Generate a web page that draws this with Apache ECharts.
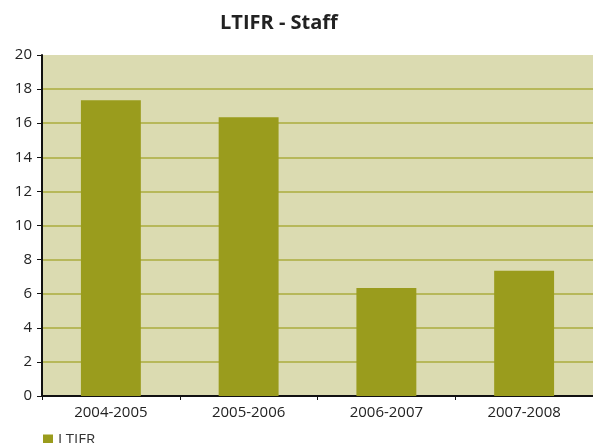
<!DOCTYPE html>
<html>
<head>
<meta charset="utf-8">
<script src="https://cdn.jsdelivr.net/npm/echarts@6/dist/echarts.min.js"></script>
<style>
  html, body { margin: 0; padding: 0; background: #ffffff; }
  #chart { width: 593px; height: 443px; }
</style>
</head>
<body>
<div id="chart"></div>
<script>
// данные
const categories = ['2004-2005', '2005-2006', '2006-2007', '2007-2008'];
const ltifrValues = [17.35, 16.35, 6.34, 7.34];
const yTicks = [0, 2, 4, 6, 8, 10, 12, 14, 16, 18, 20];

const FONT = '"Open Sans", "Noto Sans", sans-serif';
const chart = echarts.init(document.getElementById('chart'));

chart.setOption({
    animation: false,
    title: {
        text: 'LTIFR - Staff',
        left: 215,
        top: 8,
        textStyle: { fontFamily: FONT, fontSize: 20, fontWeight: 'bold', color: '#222222' }
    },
    legend: {
        data: ['LTIFR'],
        left: 38,
        top: 427,
        itemWidth: 10,
        itemHeight: 10,
        itemGap: 5,
        icon: 'rect',
        textStyle: { fontFamily: FONT, fontSize: 15, color: '#333333' }
    },
    grid: {
        left: 42,
        right: 0,
        top: 55,
        bottom: 47,
        show: true,
        backgroundColor: '#dbdbb1',
        borderWidth: 0
    },
    xAxis: {
        type: 'category',
        data: categories,
        axisLine: { lineStyle: { color: '#111111', width: 2 } },
        axisTick: { show: true, lineStyle: { color: '#111111' }, length: 4 },
        axisLabel: { fontFamily: FONT, fontSize: 15, color: '#222222', margin: 9 }
    },
    yAxis: {
        type: 'value',
        min: yTicks[0],
        max: yTicks[yTicks.length - 1],
        interval: 2,
        axisLine: { show: true, lineStyle: { color: '#111111', width: 2 } },
        axisTick: { show: true, lineStyle: { color: '#111111' }, length: 5 },
        axisLabel: { fontFamily: FONT, fontSize: 15, color: '#222222', margin: 10 },
        splitLine: {
            show: true,
            lineStyle: { color: '#abac3e', width: 1.5 },
            showMaxLine: false
        }
    },
    series: [
        {
            name: 'LTIFR',
            type: 'bar',
            data: ltifrValues,
            barWidth: '43.5%',
            itemStyle: { color: '#9a9c1d' }
        }
    ]
});
</script>
</body>
</html>
